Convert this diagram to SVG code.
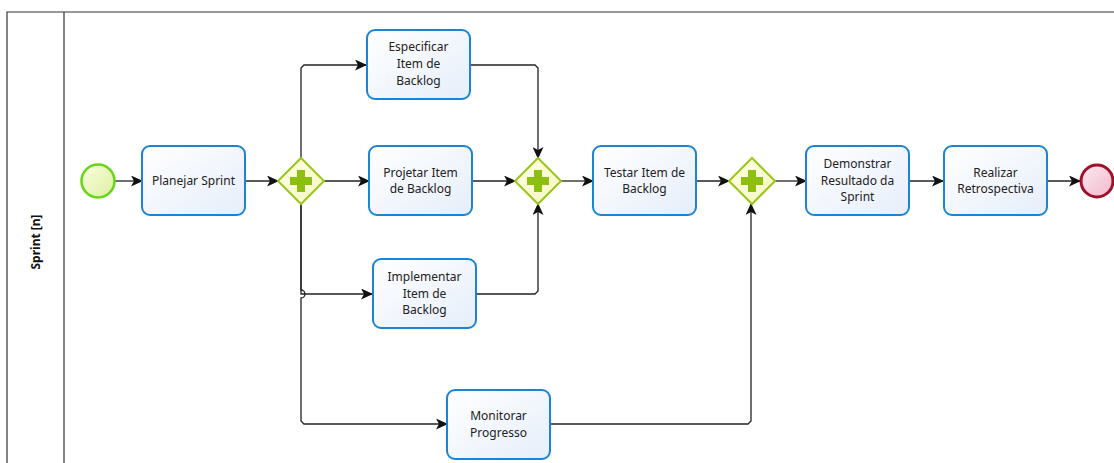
<svg xmlns="http://www.w3.org/2000/svg" width="1114" height="463" viewBox="0 0 1114 463">
<defs>
<linearGradient id="taskG" x1="0" y1="0" x2="1" y2="1">
<stop offset="0" stop-color="#ffffff"/><stop offset="1" stop-color="#e6eefa"/>
</linearGradient>
<linearGradient id="startG" x1="0" y1="0" x2="1" y2="1">
<stop offset="0" stop-color="#fbfde0"/><stop offset="1" stop-color="#dcf0a0"/>
</linearGradient>
<linearGradient id="endG" x1="0" y1="0" x2="1" y2="1">
<stop offset="0" stop-color="#fbe9f0"/><stop offset="1" stop-color="#f2b8cc"/>
</linearGradient>
<linearGradient id="gwG" x1="0" y1="0" x2="1" y2="1">
<stop offset="0" stop-color="#ffffe6"/><stop offset="1" stop-color="#f4f7c0"/>
</linearGradient>
<marker id="arr" viewBox="0 0 12 11" refX="11" refY="5.5" markerWidth="12" markerHeight="11" markerUnits="userSpaceOnUse" orient="auto">
<path d="M0,0 L12,5.5 L0,11 L3,5.5 Z" fill="#111"/>
</marker>
<g id="plus"><path d="M-4,-11 H4 V-4 H11 V4 H4 V11 H-4 V4 H-11 V-4 H-4 Z" fill="#8cbf10"/></g>
</defs>
<style>
.task{fill:url(#taskG);stroke:#1a85d6;stroke-width:2}
.gw{fill:url(#gwG);stroke:#9bc51a;stroke-width:2}
.lbl{font-family:"Noto Sans","DejaVu Sans",sans-serif;font-size:12px;fill:#222;text-anchor:middle}
.conn{fill:none;stroke:#222;stroke-width:1.3}
.pool{fill:none;stroke:#333;stroke-width:1.2}
</style>
<rect width="1114" height="463" fill="#ffffff"/>
<g id="pool">
<path class="pool" d="M7,463 V12 H1114"/>
<path class="pool" d="M64,12 V463"/>
<text x="40" y="242" transform="rotate(-90 40 242)" style="font-family:'Noto Sans','DejaVu Sans',sans-serif;font-size:12px;font-weight:bold;fill:#111;text-anchor:middle">Sprint [n]</text>
</g>
<g id="connectors">
<path class="conn" marker-end="url(#arr)" d="M115,181 H142"/>
<path class="conn" marker-end="url(#arr)" d="M245,181 H278"/>
<path class="conn" marker-end="url(#arr)" d="M301,158 V68 L304,65 H366"/>
<path class="conn" marker-end="url(#arr)" d="M324,181 H369"/>
<path class="conn" marker-end="url(#arr)" d="M301,204 V294 H372"/>
<path class="conn" marker-end="url(#arr)" d="M301,204 V290 A4,4 0 0 1 301,298 V421 L304,424 H447"/>
<path class="conn" marker-end="url(#arr)" d="M470,65 H535 L538,68 V158"/>
<path class="conn" marker-end="url(#arr)" d="M472,181 H515"/>
<path class="conn" marker-end="url(#arr)" d="M476,294 H535 L538,291 V204"/>
<path class="conn" marker-end="url(#arr)" d="M561,181 H593"/>
<path class="conn" marker-end="url(#arr)" d="M696,181 H729"/>
<path class="conn" marker-end="url(#arr)" d="M550,424 H748 L751,421 V204"/>
<path class="conn" marker-end="url(#arr)" d="M775,181 H806"/>
<path class="conn" marker-end="url(#arr)" d="M909,181 H943"/>
<path class="conn" marker-end="url(#arr)" d="M1047,181 H1080"/>
</g>
<g id="start"><circle cx="98" cy="181" r="16.5" fill="url(#startG)" stroke="#66d61a" stroke-width="2.5"/></g>
<g id="planejar"><rect class="task" x="142" y="146" width="103" height="69" rx="8"/><text class="lbl" x="193.5" y="185">Planejar Sprint</text></g>
<g id="gw1"><path class="gw" d="M301,158 L324,181 L301,204 L278,181 Z"/><use href="#plus" x="301" y="181"/></g>
<g id="especificar"><rect class="task" x="367" y="30" width="103" height="69" rx="8"/><text class="lbl" x="418.5" y="51">Especificar</text><text class="lbl" x="418.5" y="68">Item de</text><text class="lbl" x="418.5" y="85">Backlog</text></g>
<g id="projetar"><rect class="task" x="369" y="146" width="103" height="69" rx="8"/><text class="lbl" x="420.5" y="177">Projetar Item</text><text class="lbl" x="420.5" y="193">de Backlog</text></g>
<g id="implementar"><rect class="task" x="373" y="259" width="103" height="69" rx="8"/><text class="lbl" x="424.5" y="281">Implementar</text><text class="lbl" x="424.5" y="298">Item de</text><text class="lbl" x="424.5" y="314">Backlog</text></g>
<g id="monitorar"><rect class="task" x="447" y="390" width="103" height="69" rx="8"/><text class="lbl" x="498.5" y="420">Monitorar</text><text class="lbl" x="498.5" y="437">Progresso</text></g>
<g id="gw2"><path class="gw" d="M538,158 L561,181 L538,204 L515,181 Z"/><use href="#plus" x="538" y="181"/></g>
<g id="testar"><rect class="task" x="593" y="146" width="103" height="69" rx="8"/><text class="lbl" x="644.5" y="177">Testar Item de</text><text class="lbl" x="644.5" y="193">Backlog</text></g>
<g id="gw3"><path class="gw" d="M752,158 L775,181 L752,204 L729,181 Z"/><use href="#plus" x="752" y="181"/></g>
<g id="demonstrar"><rect class="task" x="806" y="146" width="103" height="69" rx="8"/><text class="lbl" x="857.5" y="168">Demonstrar</text><text class="lbl" x="857.5" y="185">Resultado da</text><text class="lbl" x="857.5" y="201">Sprint</text></g>
<g id="realizar"><rect class="task" x="944" y="146" width="103" height="69" rx="8"/><text class="lbl" x="995.5" y="177">Realizar</text><text class="lbl" x="995.5" y="193">Retrospectiva</text></g>
<g id="end"><circle cx="1097" cy="181" r="16" fill="url(#endG)" stroke="#a0102a" stroke-width="3"/></g>
</svg>
